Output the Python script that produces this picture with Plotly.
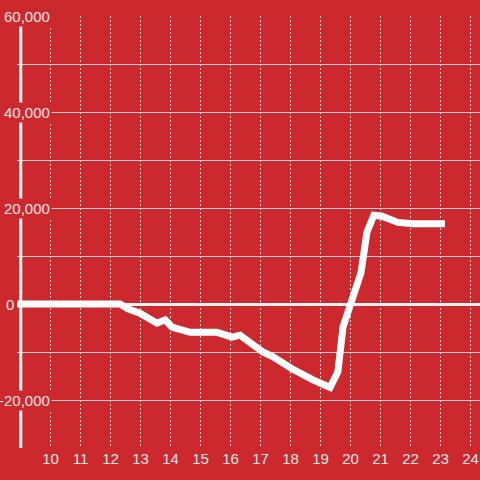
import plotly.graph_objects as go

hours = [8.9, 12.32, 12.58, 12.98, 13.55, 13.82, 14.05, 14.3, 14.65, 15.55, 16.05, 16.32,
         17.08, 17.42, 18.05, 18.75, 19.32, 19.58, 19.75, 20.35, 20.55, 20.78, 21.05,
         21.58, 22.08, 23.15]
values = [0, 0, -1000, -1900, -4000, -3300, -4800, -5400, -5900, -5900, -6900, -6500,
          -10000, -11000, -13500, -15800, -17400, -14100, -4800, 6500, 15000, 18500, 18300,
          17000, 16700, 16700]
x_ticks = list(range(10, 25))
y_label_vals = [60000, 40000, 20000, 0, -20000]

RED = "#cc292e"
W, H = 480, 480
L, R, T, B = 17, 0, 16, 32
x_range = [8.8833, 24.3167]
y_range = [-30000, 60000]
FONT = dict(family="Liberation Sans, Arial, sans-serif", size=15, color="#f2e4e4")

fig = go.Figure()
fig.add_trace(go.Scatter(x=hours, y=values, mode="lines",
                         line=dict(color="white", width=7), hoverinfo="skip"))

# y axis line
fig.add_shape(type="line", xref="paper", yref="paper", x0=(20.8 - L) / (W - L - R),
              x1=(20.8 - L) / (W - L - R), y0=0, y1=1,
              line=dict(color="#f2f2f2", width=3), layer="above")

annotations = []
for v in y_label_vals:
    label = f"{v:,}"
    right_px = 16 if v == 0 else 52
    annotations.append(dict(
        x=(right_px - L) / (W - L - R), xref="paper", y=v, yref="y",
        text=label, showarrow=False, xanchor="right", yanchor="middle",
        bgcolor=RED, borderpad=1, font=FONT))

fig.update_layout(
    width=W, height=H, margin=dict(l=L, r=R, t=T, b=B, autoexpand=False),
    paper_bgcolor=RED, plot_bgcolor=RED, showlegend=False,
    annotations=annotations,
    xaxis=dict(range=x_range, tickmode="array", tickvals=x_ticks,
               ticktext=[str(t) for t in x_ticks], showgrid=True,
               gridcolor="#e8e0e0", griddash="2px,2px", gridwidth=1,
               zeroline=False, showline=False, ticks="", automargin=False,
               tickfont=FONT),
    yaxis=dict(range=y_range, dtick=10000, showgrid=True, gridcolor="#d4cccc",
               gridwidth=1, zeroline=True, zerolinecolor="#f2f2f2", zerolinewidth=3,
               showticklabels=False, showline=False, ticks="", automargin=False),
)
fig.write_html("out.html", config={"displayModeBar": False, "staticPlot": True},
               post_script="document.body.style.margin='0';document.body.style.overflow='hidden';")
